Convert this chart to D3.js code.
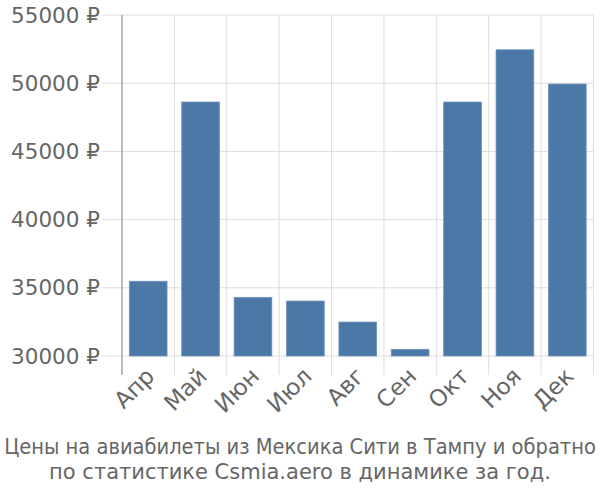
<!DOCTYPE html>
<html><head><meta charset="utf-8">
<script src="https://cdn.jsdelivr.net/npm/d3@7"></script>
<style>body{margin:0;background:#fff;}svg{display:block;}</style>
</head><body>
<svg id="c" width="600" height="500"></svg>
<script>
const months = ["Апр","Май","Июн","Июл","Авг","Сен","Окт","Ноя","Дек"];
const prices = [35480, 48620, 34300, 34030, 32490, 30490, 48620, 52450, 49940];
const yTicks = [30000, 35000, 40000, 45000, 50000, 55000];
const titleLines = ["Цены на авиабилеты из Мексика Сити в Тампу и обратно", "по статистике Csmia.aero в динамике за год."];

(function(){
const svg = d3.select("#c");
const font = "'DejaVu Sans', sans-serif";
const pl = 122, pr = 593.5, pt = 15, pb = 356;
const pad = 0.28;
const x = d3.scaleBand().domain(months).range([pl, pr]).paddingInner(pad).paddingOuter(pad/2);
const y = d3.scaleLinear().domain([30000, 55000]).range([pb, pt]);
const step = x.step();

svg.append("g").selectAll("line").data(yTicks).join("line")
  .attr("x1", pl - 20).attr("x2", pr)
  .attr("y1", d => y(d)).attr("y2", d => y(d))
  .attr("stroke", "#dddddd").attr("stroke-width", 1);
const bounds = months.map(m => x(m) - step*pad/2).concat([pr]);
svg.append("g").selectAll("line").data(bounds).join("line")
  .attr("x1", d => d).attr("x2", d => d)
  .attr("y1", pt).attr("y2", pb + 19)
  .attr("stroke", "#dddddd").attr("stroke-width", 1);
svg.append("line").attr("x1", pl).attr("x2", pl).attr("y1", pt).attr("y2", pb + 19)
  .attr("stroke", "#aaaaaa").attr("stroke-width", 1.5);

svg.append("g").selectAll("rect").data(prices).join("rect")
  .attr("x", (d,i) => x(months[i]))
  .attr("y", d => y(d))
  .attr("width", x.bandwidth())
  .attr("height", d => pb - y(d))
  .attr("fill", "#4c78a8")
  .attr("stroke", "#6f93bd").attr("stroke-width", 0.8);

svg.append("g").selectAll("text").data(yTicks).join("text")
  .attr("x", pl - 22).attr("y", d => y(d))
  .attr("dy", "0.35em").attr("text-anchor", "end")
  .attr("font-family", font).attr("font-size", 21.5).attr("fill", "#666666")
  .text(d => d + " ₽");

svg.append("g").selectAll("text").data(months).join("text")
  .attr("transform", d => `translate(${x(d) + x.bandwidth()/2 + 2},${pb + 16}) rotate(-45)`)
  .attr("text-anchor", "end").attr("dy", "0.35em")
  .attr("font-family", font).attr("font-size", 23).attr("fill", "#666666")
  .text(d => d);

const t = svg.append("g").selectAll("text").data(titleLines).join("text")
  .attr("x", 0).attr("y", 0)
  .attr("text-anchor", "middle")
  .attr("font-family", font).attr("font-size", 21).attr("fill", "#666666")
  .text(d => d);
t.attr("transform", function(d, i) {
  const len = this.getComputedTextLength();
  const s = Math.min(1, 592 / len);
  return `translate(300,${454 + i*25}) scale(${s},1)`;
});
})();
</script>
</body></html>
